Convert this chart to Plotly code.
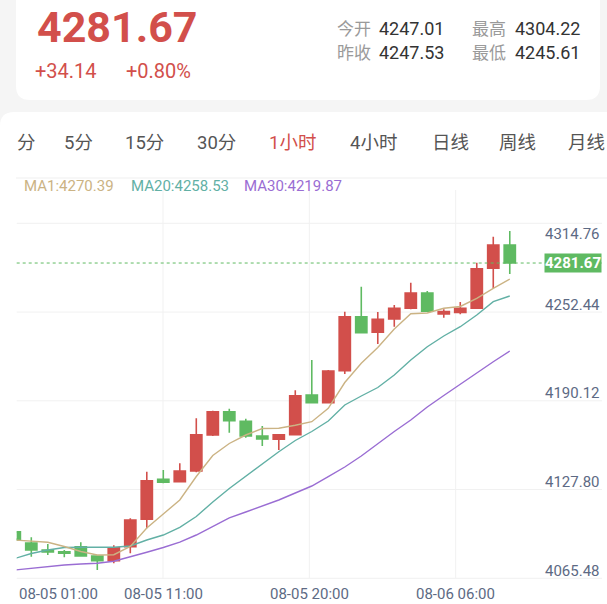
import plotly.graph_objects as go

W, H = 607, 604

# hourly candles, left to right
opens = [4093.00, 4085.07, 4080.15, 4078.96, 4082.47, 4075.94, 4072.64, 4082.47, 4101.71, 4129.80,
         4128.11, 4135.62, 4160.90, 4177.26, 4170.52, 4160.20, 4157.88, 4161.11, 4188.99, 4183.59,
         4206.06, 4243.97, 4233.02, 4242.36, 4249.87, 4260.62, 4245.87, 4247.01, 4249.87, 4277.96,
         4294.32]
highs = [4093.84, 4089.07, 4084.36, 4080.15, 4085.56, 4076.29, 4083.45, 4102.41, 4135.13, 4136.33,
         4141.03, 4172.63, 4177.97, 4179.37, 4172.35, 4167.22, 4161.61, 4192.29, 4213.57, 4206.55,
         4247.49, 4265.04, 4247.27, 4252.19, 4267.85, 4262.02, 4249.17, 4254.30, 4281.89, 4300.15,
         4304.22]
lows = [4086.12, 4075.45, 4076.64, 4075.03, 4075.45, 4066.11, 4070.81, 4077.83, 4095.39, 4126.99,
        4127.90, 4134.71, 4160.20, 4162.52, 4159.01, 4153.18, 4150.37, 4160.69, 4183.16, 4183.37,
        4203.74, 4232.32, 4224.80, 4236.95, 4249.17, 4247.40, 4243.27, 4245.61, 4249.38, 4263.92,
        4273.96]
closes = [4087.17, 4080.15, 4078.75, 4077.83, 4075.94, 4072.64, 4081.77, 4101.22, 4128.81, 4127.69,
          4135.62, 4161.11, 4177.26, 4170.95, 4160.20, 4158.10, 4161.11, 4188.50, 4183.59, 4205.84,
          4243.97, 4232.74, 4242.15, 4249.87, 4260.62, 4247.80, 4247.53, 4249.87, 4277.68, 4294.32,
          4281.67]

ma1 = [4087.17, 4086.12, 4085.56, 4082.61, 4079.10, 4076.64, 4076.85, 4082.61, 4095.60, 4105.43,
       4115.26, 4131.76, 4146.51, 4154.94, 4160.90, 4165.47, 4165.61, 4167.72, 4170.24, 4179.65,
       4197.77, 4211.25, 4222.35, 4235.34, 4246.08, 4246.57, 4249.87, 4251.14, 4256.89, 4263.92,
       4270.39]
ma20 = [4074.18, 4077.69, 4080.15, 4081.91, 4082.05, 4082.05, 4082.10, 4082.96, 4087.17, 4090.68,
        4096.09, 4103.67, 4113.86, 4123.34, 4132.11, 4140.54, 4149.18, 4157.04, 4163.36, 4170.73,
        4181.97, 4188.29, 4194.26, 4203.04, 4213.57, 4222.91, 4230.42, 4236.95, 4245.17, 4254.51,
        4258.53]
ma30 = [4066.11, 4067.30, 4068.42, 4069.62, 4070.32, 4070.81, 4072.22, 4075.24, 4078.54, 4081.91,
        4085.63, 4090.68, 4097.00, 4102.76, 4106.83, 4110.84, 4115.26, 4120.18, 4125.09, 4131.62,
        4138.43, 4146.16, 4154.94, 4163.36, 4171.44, 4180.57, 4188.64, 4196.72, 4204.23, 4212.37,
        4219.87]

y_ticks = [4065.48, 4127.80, 4190.12, 4252.44, 4314.76]
x_labels = ["08-05 01:00", "08-05 11:00", "08-05 20:00", "08-06 06:00"]
tabs = ["分", "5分", "15分", "30分", "1小时", "4小时", "日线", "周线", "月线"]
active_tab = "1小时"

last_price = 4281.67
change = 34.14
change_pct = 0.80
quote = [("今开", 4247.01), ("最高", 4304.22), ("昨收", 4247.53), ("最低", 4245.61)]

RED = "#d24f4b"
GREEN = "#5fba62"
FONT = "Roboto, 'Noto Sans CJK SC', sans-serif"
C_MA1, C_MA20, C_MA30 = "#cbb384", "#62b0a5", "#9a6dd3"


def px(x):
    return x / W


def py(y):
    return 1 - y / H


def rounded(x0, y0, x1, y1, r, corners):
    # corners: tl, tr, br, bl flags, in pixels -> paper path
    tl, tr, br, bl = corners
    p = []
    p.append("M %f,%f" % (px(x0), py(y0 + r if tl else y0)))
    if tl:
        p.append("Q %f,%f %f,%f" % (px(x0), py(y0), px(x0 + r), py(y0)))
    p.append("L %f,%f" % (px(x1 - r if tr else x1), py(y0)))
    if tr:
        p.append("Q %f,%f %f,%f" % (px(x1), py(y0), px(x1), py(y0 + r)))
    p.append("L %f,%f" % (px(x1), py(y1 - r if br else y1)))
    if br:
        p.append("Q %f,%f %f,%f" % (px(x1), py(y1), px(x1 - r), py(y1)))
    p.append("L %f,%f" % (px(x0 + r if bl else x0), py(y1)))
    if bl:
        p.append("Q %f,%f %f,%f" % (px(x0), py(y1), px(x0), py(y1 - r)))
    p.append("Z")
    return " ".join(p)


idx = list(range(len(closes)))

fig = go.Figure()
fig.add_trace(go.Candlestick(
    x=idx, open=opens, high=highs, low=lows, close=closes,
    increasing=dict(line=dict(color=RED, width=1.6), fillcolor=RED),
    decreasing=dict(line=dict(color=GREEN, width=1.6), fillcolor=GREEN),
    showlegend=False, hoverinfo="skip",
))
for vals, col in [(ma30, C_MA30), (ma20, C_MA20), (ma1, C_MA1)]:
    fig.add_trace(go.Scatter(x=idx, y=vals, mode="lines", line=dict(color=col, width=1.4),
                             showlegend=False, hoverinfo="skip"))

shapes = []
# background cards
shapes.append(dict(type="path", xref="paper", yref="paper", layer="below",
                   path=rounded(16, -30, 600, 100, 14, (False, False, True, True)),
                   fillcolor="white", line=dict(width=0)))
shapes.append(dict(type="path", xref="paper", yref="paper", layer="below",
                   path=rounded(0, 112, 630, 640, 14, (True, True, False, False)),
                   fillcolor="white", line=dict(width=0)))
# separator under tabs
shapes.append(dict(type="line", xref="paper", yref="paper", layer="below",
                   x0=px(16), x1=1, y0=py(178), y1=py(178),
                   line=dict(color="#efefef", width=1)))
# 4x4 grid
for f in [0, 0.25, 0.5, 0.75, 1]:
    shapes.append(dict(type="line", xref="x domain", yref="y domain", layer="below",
                       x0=0, x1=1, y0=f, y1=f, line=dict(color="#f1f1f1", width=1)))
for f in [0.25, 0.5, 0.75]:
    shapes.append(dict(type="line", xref="x domain", yref="paper", layer="below",
                       x0=f, x1=f, y0=py(578.3), y1=py(190), line=dict(color="#f1f1f1", width=1)))
# last price line
shapes.append(dict(type="line", xref="x domain", yref="y", x0=0, x1=1,
                   y0=last_price, y1=last_price, line=dict(color=GREEN, width=1, dash="dot")))

ann = []
# header
ann.append(dict(text="<b>%.2f</b>" % last_price, x=px(35), y=py(27), xanchor="left", yanchor="middle",
                font=dict(size=43, color=RED, family=FONT)))
ann.append(dict(text="+%.2f" % change, x=px(33), y=py(71), xanchor="left", yanchor="middle",
                font=dict(size=20, color=RED, family=FONT)))
ann.append(dict(text="+%.2f%%" % change_pct, x=px(124), y=py(71), xanchor="left", yanchor="middle",
                font=dict(size=20, color=RED, family=FONT)))
qx = [(337, 379), (472, 515), (337, 379), (472, 515)]
qy = [29, 29, 53, 53]
for (name, val), (xl, xv), yy in zip(quote, qx, qy):
    ann.append(dict(text=name, x=px(xl - 2), y=py(yy), xanchor="left", yanchor="middle",
                    font=dict(size=17, color="#9a9a9a", family=FONT)))
    ann.append(dict(text="%.2f" % val, x=px(xv - 2), y=py(yy), xanchor="left", yanchor="middle",
                    font=dict(size=18, color="#333333", family=FONT)))

# tabs
tab_x = [17, 64, 125, 197, 269, 350, 432, 499, 568]
for t, xx in zip(tabs, tab_x):
    ann.append(dict(text=t, x=px(xx - 2), y=py(143), xanchor="left", yanchor="middle",
                    font=dict(size=18.5, color=RED if t == active_tab else "#555555", family=FONT)))

# MA legend
for name, vals, col, xx in [("MA1", ma1, C_MA1, 24), ("MA20", ma20, C_MA20, 131), ("MA30", ma30, C_MA30, 244)]:
    ann.append(dict(text="%s:%.2f" % (name, vals[-1]), x=px(xx - 2), y=py(186), xanchor="left",
                    yanchor="middle", font=dict(size=15, color=col, family=FONT)))

# y labels
y_lo, y_hi = 4060.28, 4309.56
for v in y_ticks:
    if v <= y_hi:
        ann.append(dict(text="%.2f" % v, xref="x domain", yref="y", x=1, y=v, xanchor="right",
                        yanchor="middle", font=dict(size=15, color="#5d6a84", family=FONT)))
    else:
        ann.append(dict(text="%.2f" % v, xref="x domain", yref="y domain", x=1, y=1, xanchor="right",
                        yanchor="top", font=dict(size=15, color="#5d6a84", family=FONT)))
ann.append(dict(text="<b>%.2f</b>" % last_price, xref="x domain", yref="y", x=1, y=last_price,
                xanchor="right", yanchor="middle", bgcolor=GREEN, borderpad=0,
                font=dict(size=15, color="white", family=FONT)))

# x labels on grid columns
for i, lab in enumerate(x_labels):
    ann.append(dict(text=lab, xref="x domain", yref="paper", x=i * 0.25, y=py(593.5),
                    xanchor="left" if i == 0 else "center", yanchor="middle",
                    font=dict(size=15, color="#5d6a84", family=FONT)))

for a in ann:
    a.setdefault("xref", "paper")
    a.setdefault("yref", "paper")
    a["showarrow"] = False

fig.update_layout(
    width=W, height=H, margin=dict(l=0, r=0, t=0, b=0),
    paper_bgcolor="#f5f5f5", plot_bgcolor="rgba(0,0,0,0)",
    shapes=shapes, annotations=ann, boxgap=0.32, boxgroupgap=0,
    xaxis=dict(domain=[px(16.7), px(602)], range=[0.115, 35.59], showgrid=False, zeroline=False,
               showticklabels=False, rangeslider=dict(visible=False), fixedrange=True),
    yaxis=dict(domain=[py(578.3), py(223.3)], range=[y_lo, y_hi], showgrid=False, zeroline=False,
               showticklabels=False, fixedrange=True),
)

fig.write_html("out.html", config={"displayModeBar": False},
               post_script="document.body.style.margin='0';")
